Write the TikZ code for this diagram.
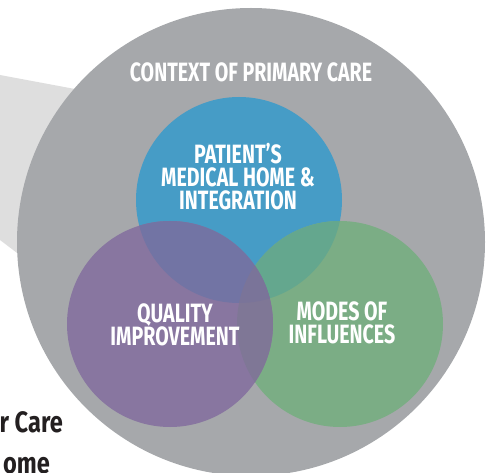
\documentclass[tikz,border=0pt]{standalone}
\usepackage{fontspec}
\setmainfont{Fira Sans}[FakeStretch=0.74]
\newfontfamily\sidefont{Fira Sans}[FakeStretch=0.8]
\definecolor{wedgegray}{HTML}{DEDEDE}
\definecolor{ctxgray}{HTML}{A6A8AB}
\definecolor{bluec}{HTML}{469CC6}
\definecolor{purplec}{HTML}{8876A0}
\definecolor{greenc}{HTML}{7BAD85}
\definecolor{bpc}{HTML}{7274A4}
\definecolor{bgc}{HTML}{64A78E}
\definecolor{pgc}{HTML}{7F7796}
\definecolor{bpgc}{HTML}{7A7499}
\definecolor{inkc}{HTML}{231F20}
\begin{document}
\begin{tikzpicture}[x=1pt,y=-1pt,
  lbl/.style={text=white,font=\bfseries\fontsize{26.5}{23}\selectfont,align=center,inner sep=0pt},
  side/.style={text=inkc,font=\sidefont\bfseries\fontsize{29.5}{30}\selectfont,inner sep=0pt}]
\useasboundingbox (0,0) rectangle (493,473);
\begin{scope}
\clip (0,0) rectangle (493,473);
\fill[wedgegray] (0,75) -- (120,97.4) -- (60,285.6) -- (0,240) -- cycle;
\fill[ctxgray] (251,242) circle (234);
\fill[bluec] (239,200) circle (103);
\fill[greenc] (340,324) circle (103);
\fill[purplec] (170,324) circle (103);
\begin{scope}
  \clip (239,200) circle (103);
  \fill[bgc] (340,324) circle (103);
\end{scope}
\begin{scope}
  \clip (239,200) circle (103);
  \fill[bpc] (170,324) circle (103);
\end{scope}
\begin{scope}
  \clip (170,324) circle (103);
  \fill[pgc] (340,324) circle (103);
\end{scope}
\begin{scope}
  \clip (170,324) circle (103);
  \clip (340,324) circle (103);
  \fill[bpgc] (239,200) circle (103);
\end{scope}
\node[lbl] (ctx) at (251,72.5) {CONTEXT OF PRIMARY CARE};
\node[lbl] (pmh) at (238,176.5) {PATIENT’S\\MEDICAL HOME \&\\INTEGRATION};
\node[lbl] (qi) at (175,325) {QUALITY\\IMPROVEMENT};
\node[lbl] (moi) at (342,322.5) {MODES OF\\INFLUENCES};
\node[side,anchor=base east] (care) at (63,432.5) {r Care};
\node[side,anchor=base east] (home) at (50,473) {ome};
\end{scope}
\end{tikzpicture}
\end{document}
